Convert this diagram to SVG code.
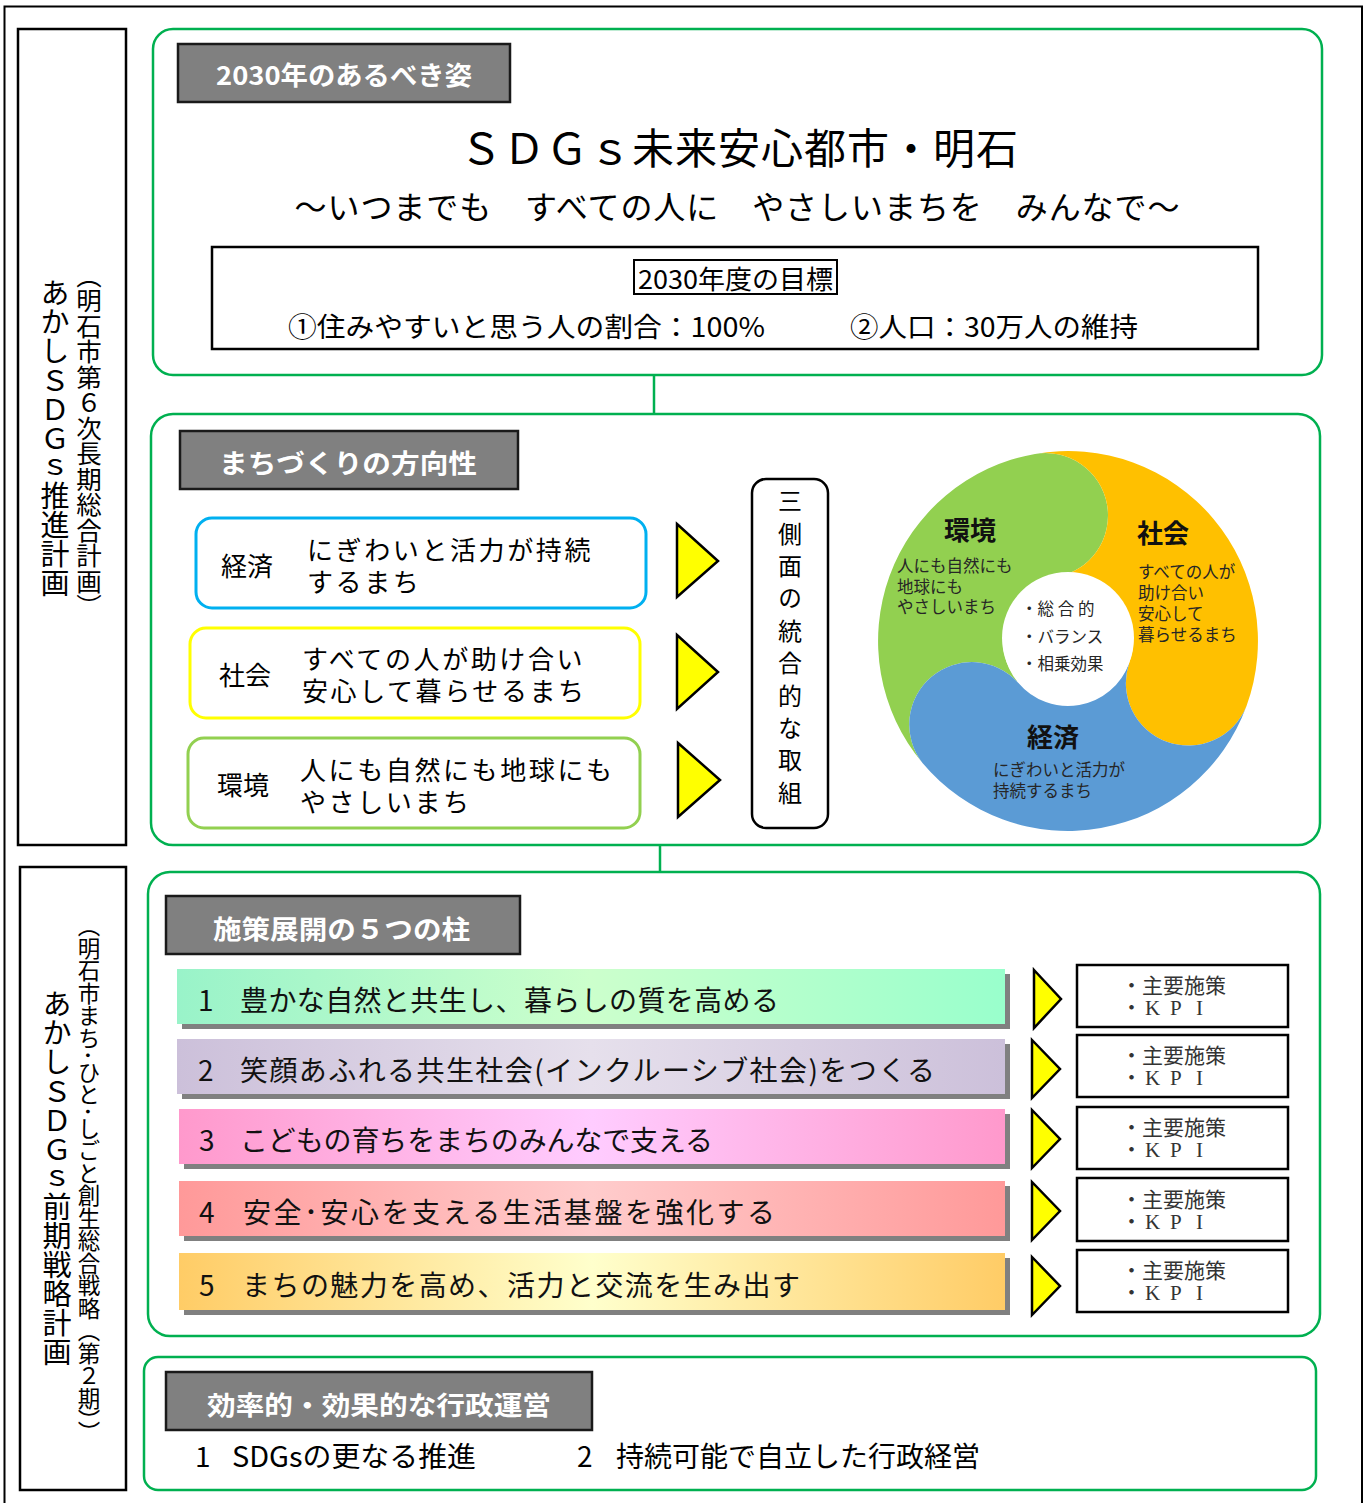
<svg xmlns="http://www.w3.org/2000/svg" width="1367" height="1503" viewBox="0 0 1367 1503">
<style>
text { font-family: "Noto Sans CJK JP", "Noto Sans", sans-serif; fill: #000; }
.panel { fill: none; stroke: #00b050; stroke-width: 2.5; }
.conn { stroke: #00b050; stroke-width: 2.5; fill: none; }
.hdr { fill: #808080; stroke: #1a1a1a; stroke-width: 2.5; }
.hdrt { fill: #fff; font-weight: bold; font-size: 26px; dominant-baseline: central; }
.side { fill: #fff; stroke: #000; stroke-width: 2.5; }
.vt { writing-mode: vertical-rl; text-anchor: middle; }
.tri { fill: #ffff00; stroke: #000; stroke-width: 2.5; stroke-linejoin: miter; }
.kpi { fill: #fff; stroke: #000; stroke-width: 2.5; }
.kpit { font-family: "Liberation Serif", "Noto Sans CJK JP", serif; font-size: 21px; fill: #333; dominant-baseline: central; }
.bart { font-size: 28px; dominant-baseline: central; fill: #111; }
.shadow { fill: #808080; }
.rowl { font-size: 26px; dominant-baseline: central; }
.rowt { font-size: 26px; letter-spacing: 2.6px; dominant-baseline: central; }
.ct { font-size: 16.5px; fill: #262626; dominant-baseline: central; }
.cb { font-size: 26px; font-weight: bold; fill: #111; dominant-baseline: central; text-anchor: middle; }
</style>
<defs>
<linearGradient id="g1" x1="0" x2="1" y1="0" y2="0"><stop offset="0" stop-color="#99f3c9"/><stop offset="0.5" stop-color="#ccffcc"/><stop offset="1" stop-color="#99ffcc"/></linearGradient>
<linearGradient id="g2" x1="0" x2="1" y1="0" y2="0"><stop offset="0" stop-color="#ccc0da"/><stop offset="0.5" stop-color="#e6e0ec"/><stop offset="1" stop-color="#ccc0da"/></linearGradient>
<linearGradient id="g3" x1="0" x2="1" y1="0" y2="0"><stop offset="0" stop-color="#ff99cc"/><stop offset="0.5" stop-color="#ffccff"/><stop offset="1" stop-color="#ff99cc"/></linearGradient>
<linearGradient id="g4" x1="0" x2="1" y1="0" y2="0"><stop offset="0" stop-color="#ff9999"/><stop offset="0.5" stop-color="#ffcccc"/><stop offset="1" stop-color="#ff9999"/></linearGradient>
<linearGradient id="g5" x1="0" x2="1" y1="0" y2="0"><stop offset="0" stop-color="#ffcc66"/><stop offset="0.5" stop-color="#ffffcc"/><stop offset="1" stop-color="#ffcc66"/></linearGradient>
</defs>
<rect x="0" y="0" width="1367" height="1503" fill="#fff"/>
<rect x="4.5" y="6.5" width="1357.5" height="1500" fill="none" stroke="#000" stroke-width="2"/>

<g id="plan-long">
<rect class="side" x="18" y="29" width="108" height="816"/>
<text class="vt" x="55" y="438" font-size="29">あかしＳＤＧｓ推進計画</text>
<text class="vt" x="89" y="441" font-size="25.5">（明石市第６次長期総合計画）</text>
</g>
<g id="plan-strategy">
<rect class="side" x="20" y="867" width="106" height="623"/>
<text class="vt" x="57" y="1178" font-size="29">あかしＳＤＧｓ前期戦略計画</text>
<text class="vt" x="89" y="1179" font-size="22.5">（明石市まち･ひと･しごと創生総合戦略（第２期））</text>
</g>

<g id="connectors">
<line class="conn" x1="654" y1="375" x2="654" y2="414"/>
<line class="conn" x1="660" y1="845" x2="660" y2="872"/>
</g>

<g id="vision">
<rect class="panel" x="153" y="29" width="1169" height="346" rx="20"/>
<rect class="hdr" x="178" y="44" width="332" height="58"/>
<text class="hdrt" x="216" y="73" textLength="256" lengthAdjust="spacingAndGlyphs">2030年のあるべき姿</text>
<text x="739" y="145" font-size="42" text-anchor="middle" dominant-baseline="central" textLength="558" lengthAdjust="spacing">ＳＤＧｓ未来安心都市・明石</text>
<text x="737" y="205" font-size="32" text-anchor="middle" dominant-baseline="central" textLength="885" lengthAdjust="spacing">～いつまでも　すべての人に　やさしいまちを　みんなで～</text>
<rect x="212" y="247" width="1046" height="102" fill="#fff" stroke="#000" stroke-width="2.5"/>
<rect x="634" y="260" width="203" height="34" fill="#fff" stroke="#000" stroke-width="2"/>
<text x="638" y="277" font-size="26" dominant-baseline="central" textLength="195" lengthAdjust="spacingAndGlyphs">2030年度の目標</text>
<text x="288" y="325" font-size="27" dominant-baseline="central" textLength="477" lengthAdjust="spacingAndGlyphs">①住みやすいと思う人の割合：100%</text>
<text x="850" y="325" font-size="27" dominant-baseline="central" textLength="288" lengthAdjust="spacingAndGlyphs">②人口：30万人の維持</text>
</g>

<g id="direction">
<rect class="panel" x="151" y="414" width="1169" height="431" rx="22"/>
<rect class="hdr" x="180" y="431" width="338" height="58"/>
<text class="hdrt" x="219" y="461" textLength="258" lengthAdjust="spacingAndGlyphs">まちづくりの方向性</text>
</g>

<g id="dir-economy">
<rect x="196" y="518" width="450" height="90" rx="16" fill="#fff" stroke="#00b0f0" stroke-width="3"/>
<text class="rowl" x="221" y="564">経済</text>
<text class="rowt" x="307" y="548">にぎわいと活力が持続</text>
<text class="rowt" x="307" y="580">するまち</text>
<polygon class="tri" points="677,524 718,561 677,597"/>
</g>
<g id="dir-society">
<rect x="190" y="628" width="450" height="90" rx="16" fill="#fff" stroke="#ffff00" stroke-width="3"/>
<text class="rowl" x="219" y="673">社会</text>
<text class="rowt" x="302" y="657">すべての人が助け合い</text>
<text class="rowt" x="302" y="689">安心して暮らせるまち</text>
<polygon class="tri" points="677,635 718,672 677,709"/>
</g>
<g id="dir-environment">
<rect x="188" y="738" width="452" height="90" rx="16" fill="#fff" stroke="#92d050" stroke-width="3"/>
<text class="rowl" x="217" y="783">環境</text>
<text class="rowt" x="300" y="768">人にも自然にも地球にも</text>
<text class="rowt" x="300" y="800">やさしいまち</text>
<polygon class="tri" points="678,743 720,780 678,817"/>
</g>

<g id="integration">
<rect x="752" y="479" width="76" height="349" rx="14" fill="#fff" stroke="#000" stroke-width="2.5"/>
<text class="vt" x="790" y="651" font-size="24" letter-spacing="8.4">三側面の統合的な取組</text>
</g>

<g id="three-sides-circle">
<path fill="#92d050" d="M922.5,763.1 A190,190 0 0 1 1035.0,453.9 A62.5,62.5 0 0 1 1056.7,577.0 A65,65 0 0 0 1018.2,682.8 A62.5,62.5 0 0 0 922.5,763.1 Z"/>
<path fill="#ffc000" d="M1035.0,453.9 A190,190 0 0 1 1246.5,706.0 A62.5,62.5 0 0 1 1129.1,663.2 A65,65 0 0 0 1056.7,577.0 A62.5,62.5 0 0 0 1035.0,453.9 Z"/>
<path fill="#5b9bd5" d="M1246.5,706.0 A190,190 0 0 1 922.5,763.1 A62.5,62.5 0 0 1 1018.2,682.8 A65,65 0 0 0 1129.1,663.2 A62.5,62.5 0 0 0 1246.5,706.0 Z"/>
<circle cx="1068" cy="638" r="66" fill="#fff"/>
<text class="cb" x="970" y="528">環境</text>
<text class="ct" x="897" y="565">人にも自然にも</text>
<text class="ct" x="897" y="586">地球にも</text>
<text class="ct" x="897" y="606">やさしいまち</text>
<text class="cb" x="1163" y="531">社会</text>
<text class="ct" x="1138" y="571">すべての人が</text>
<text class="ct" x="1138" y="592">助け合い</text>
<text class="ct" x="1138" y="613">安心して</text>
<text class="ct" x="1138" y="634">暮らせるまち</text>
<text class="cb" x="1053" y="735">経済</text>
<text class="ct" x="993" y="769">にぎわいと活力が</text>
<text class="ct" x="993" y="790">持続するまち</text>
<text class="ct" x="1021" y="608">・総 合 的</text>
<text class="ct" x="1021" y="636">・バランス</text>
<text class="ct" x="1021" y="663">・相乗効果</text>
</g>

<g id="pillars">
<rect class="panel" x="148" y="872" width="1172" height="464" rx="22"/>
<rect class="hdr" x="166" y="896" width="354" height="58"/>
<text class="hdrt" x="213" y="927" textLength="257" lengthAdjust="spacingAndGlyphs">施策展開の５つの柱</text>
</g>

<g id="pillar-1">
<rect class="shadow" x="182" y="974" width="828" height="55"/>
<rect x="177" y="969" width="828" height="55" fill="url(#g1)"/>
<text class="bart" y="999"><tspan x="198">1</tspan><tspan x="240" textLength="539" lengthAdjust="spacing">豊かな自然と共生し、暮らしの質を高める</tspan></text>
<polygon class="tri" points="1034,970 1061,999 1034,1028"/>
<rect class="kpi" x="1077" y="965" width="211" height="62"/>
<text class="kpit" y="986"><tspan x="1121">・主要施策</tspan></text>
<text class="kpit" y="1008"><tspan x="1121">・</tspan><tspan x="1145">K</tspan><tspan x="1170">P</tspan><tspan x="1196">I</tspan></text>
</g>
<g id="pillar-2">
<rect class="shadow" x="182" y="1044" width="828" height="55"/>
<rect x="177" y="1039" width="828" height="55" fill="url(#g2)"/>
<text class="bart" y="1069"><tspan x="198">2</tspan><tspan x="240" textLength="695" lengthAdjust="spacing">笑顔あふれる共生社会(インクルーシブ社会)をつくる</tspan></text>
<polygon class="tri" points="1032,1040 1060,1069 1032,1098"/>
<rect class="kpi" x="1077" y="1035" width="211" height="62"/>
<text class="kpit" y="1056"><tspan x="1121">・主要施策</tspan></text>
<text class="kpit" y="1078"><tspan x="1121">・</tspan><tspan x="1145">K</tspan><tspan x="1170">P</tspan><tspan x="1196">I</tspan></text>
</g>
<g id="pillar-3">
<rect class="shadow" x="184" y="1114" width="826" height="55"/>
<rect x="179" y="1109" width="826" height="55" fill="url(#g3)"/>
<text class="bart" y="1139"><tspan x="199">3</tspan><tspan x="240" textLength="473" lengthAdjust="spacing">こどもの育ちをまちのみんなで支える</tspan></text>
<polygon class="tri" points="1032,1110 1060,1139 1032,1168"/>
<rect class="kpi" x="1077" y="1107" width="211" height="62"/>
<text class="kpit" y="1128"><tspan x="1121">・主要施策</tspan></text>
<text class="kpit" y="1150"><tspan x="1121">・</tspan><tspan x="1145">K</tspan><tspan x="1170">P</tspan><tspan x="1196">I</tspan></text>
</g>
<g id="pillar-4">
<rect class="shadow" x="184" y="1186" width="826" height="55"/>
<rect x="179" y="1181" width="826" height="55" fill="url(#g4)"/>
<text class="bart" y="1211"><tspan x="199">4</tspan><tspan x="243" textLength="532" lengthAdjust="spacing">安全･安心を支える生活基盤を強化する</tspan></text>
<polygon class="tri" points="1032,1182 1060,1211 1032,1240"/>
<rect class="kpi" x="1077" y="1178" width="211" height="63"/>
<text class="kpit" y="1200"><tspan x="1121">・主要施策</tspan></text>
<text class="kpit" y="1222"><tspan x="1121">・</tspan><tspan x="1145">K</tspan><tspan x="1170">P</tspan><tspan x="1196">I</tspan></text>
</g>
<g id="pillar-5">
<rect class="shadow" x="184" y="1258" width="826" height="57"/>
<rect x="179" y="1253" width="826" height="57" fill="url(#g5)"/>
<text class="bart" y="1284"><tspan x="199">5</tspan><tspan x="242" textLength="558" lengthAdjust="spacing">まちの魅力を高め、活力と交流を生み出す</tspan></text>
<polygon class="tri" points="1032,1257 1060,1286 1032,1315"/>
<rect class="kpi" x="1077" y="1250" width="211" height="62"/>
<text class="kpit" y="1271"><tspan x="1121">・主要施策</tspan></text>
<text class="kpit" y="1293"><tspan x="1121">・</tspan><tspan x="1145">K</tspan><tspan x="1170">P</tspan><tspan x="1196">I</tspan></text>
</g>

<g id="administration">
<rect class="panel" x="144" y="1357" width="1172" height="133" rx="14"/>
<rect class="hdr" x="166" y="1372" width="426" height="58"/>
<text class="hdrt" x="207" y="1403" textLength="344" lengthAdjust="spacingAndGlyphs">効率的・効果的な行政運営</text>
<text y="1455" font-size="28" dominant-baseline="central"><tspan x="195">1</tspan><tspan x="232" textLength="244" lengthAdjust="spacingAndGlyphs">SDGsの更なる推進</tspan></text>
<text y="1455" font-size="28" dominant-baseline="central"><tspan x="577">2</tspan><tspan x="616" textLength="364" lengthAdjust="spacingAndGlyphs">持続可能で自立した行政経営</tspan></text>
</g>
</svg>
